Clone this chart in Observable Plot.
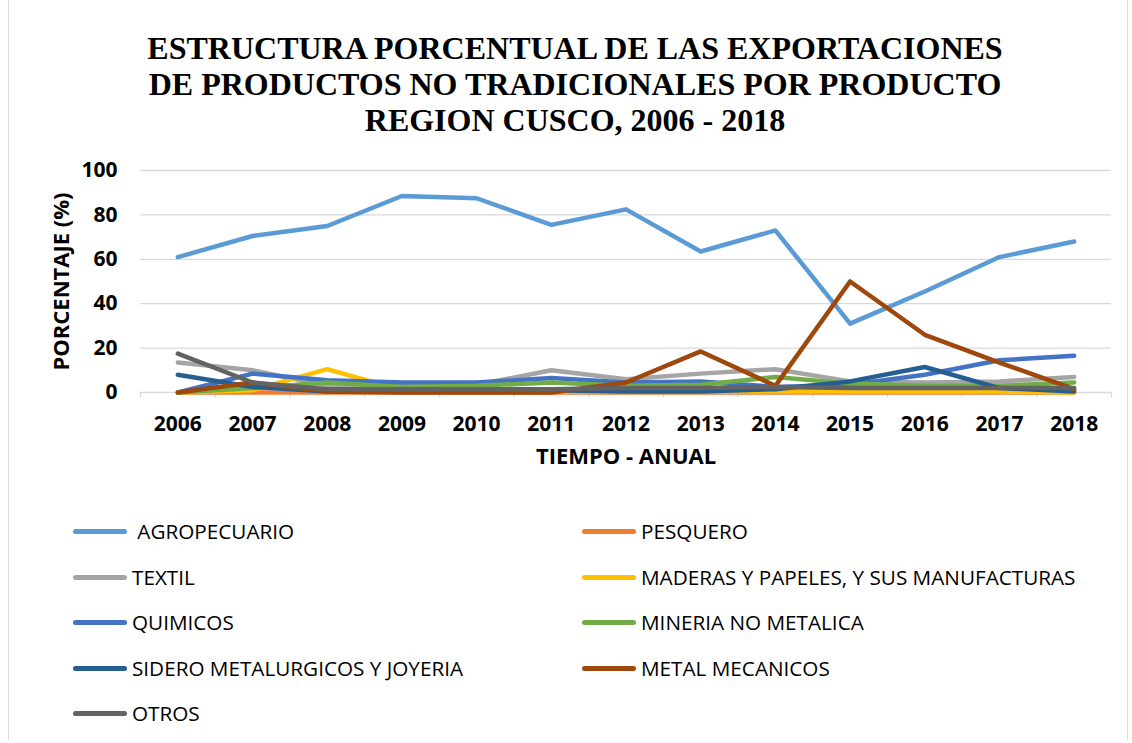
<!DOCTYPE html>
<html><head><meta charset="utf-8">
<script src="https://cdn.jsdelivr.net/npm/d3@7"></script>
<script src="https://cdn.jsdelivr.net/npm/@observablehq/plot@0.6"></script>
<style>
body{margin:0;background:#fff;width:1132px;height:743px;position:relative;overflow:hidden;font-family:"Open Sans",sans-serif;color:#000}
#frame{position:absolute;left:8px;top:-2px;width:1120px;height:742px;border-left:1px solid #d9d9d9;border-right:1px solid #d9d9d9;box-sizing:border-box;z-index:5;pointer-events:none}
#title{position:absolute;top:30px;left:0;width:1150px;text-align:center;font-family:"Liberation Serif",serif;font-weight:bold;font-size:32px;line-height:36px}
#chart{position:absolute;top:140px;left:0}
.leg{position:absolute;height:24px;display:flex;align-items:center;font-size:20.7px;white-space:pre}
.sw{display:inline-block;height:5px;border-radius:3px;margin-right:5px;width:54px}
</style></head>
<body>
<div id="frame"></div>
<div id="title">ESTRUCTURA PORCENTUAL DE LAS EXPORTACIONES<br>DE PRODUCTOS NO TRADICIONALES POR PRODUCTO<br>REGION CUSCO, 2006 - 2018</div>
<div id="chart"></div>
<div id="legend"></div>
<script>
const years = [2006,2007,2008,2009,2010,2011,2012,2013,2014,2015,2016,2017,2018];
const yTicks = [0,20,40,60,80,100];
const seriesNames = ["AGROPECUARIO","PESQUERO","TEXTIL","MADERAS Y PAPELES, Y SUS MANUFACTURAS","QUIMICOS","MINERIA NO METALICA","SIDERO METALURGICOS Y JOYERIA","METAL MECANICOS","OTROS"];
const seriesColors = ["#5B9BD5","#ED7D31","#A5A5A5","#FFC000","#4472C4","#70AD47","#255E91","#9E480E","#636363"];
const agropecuario = [61,70.5,75,88.5,87.5,75.5,82.5,63.5,73,31,45.5,61,68];
const pesquero     = [0,0,0,0,0,0,0,0,0,0,0,0,0];
const textil       = [13.5,10,3,3,3.5,10,6,8.5,10.5,5,4.5,5,7];
const maderas      = [0,1,10.5,1,0.5,0.5,0.5,0.5,0.5,0.5,0.5,0.5,0];
const quimicos     = [0,8.5,5.5,4.5,4.5,6.5,4.5,5,2.5,3.5,8,14.5,16.5];
const mineria      = [0,2,4.5,2.5,3,4.5,3,3.5,7,4,3,3,4.5];
const sidero       = [8,2.5,0.5,0.5,0.5,1,0.5,0.5,1.5,5,11.5,2,0.5];
const metal        = [0,4.5,0.5,0,0,0,4.5,18.5,3,50,26,13.5,1.5];
const otros        = [17.5,4.5,1.5,1.5,1.5,1.5,2,2,2.5,2,2,2,2];
const seriesValues = [agropecuario,pesquero,textil,maderas,quimicos,mineria,sidero,metal,otros];

const boundaries = d3.range(years.length + 1).map(i => years[0] - 0.5 + i);
const bold = {fontWeight:"bold", fontFamily:"Open Sans", fill:"#000"};

const lineMarks = seriesNames.map((name, i) =>
  Plot.line(years.map((y, j) => ({year:y, value:seriesValues[i][j]})), {
    x:"year", y:"value", stroke:seriesColors[i], strokeWidth:4.5,
    strokeLinecap:"round", strokeLinejoin:"round"
  }));

const chart = Plot.plot({
  width:1132, height:342,
  marginTop:30, marginBottom:90, marginLeft:140, marginRight:21,
  x:{domain:[years[0]-0.5, years[years.length-1]+0.5], axis:null},
  y:{domain:[0,100], axis:null},
  style:{fontFamily:"Open Sans", background:"transparent"},
  marks:[
    Plot.ruleY(yTicks, {stroke:"#d9d9d9", strokeWidth:1.3}),
    Plot.ruleX(boundaries, {y1:0, y2:-2.4, stroke:"#d9d9d9", strokeWidth:1.3}),
    Plot.text(years, {x:d=>d, y:0, dy:32, text:d=>String(d), fontSize:21, ...bold}),
    Plot.text(yTicks, {x:years[0]-0.5, y:d=>d, dx:-23, textAnchor:"end", text:d=>String(d), fontSize:21, ...bold}),
    Plot.text(["PORCENTAJE (%)"], {frameAnchor:"left", dx:-79, rotate:-90, textAnchor:"middle", text:d=>d, fontSize:22, ...bold}),
    Plot.text(["TIEMPO - ANUAL"], {frameAnchor:"bottom", dy:71, text:d=>d, fontSize:22, ...bold}),
    ...lineMarks
  ]
});
document.getElementById("chart").appendChild(chart);

const legend = document.getElementById("legend");
const rowY = [531,577,622,668,713];
seriesNames.forEach((name, i) => {
  const col = i % 2, row = Math.floor(i / 2);
  const el = document.createElement("div");
  el.className = "leg";
  el.style.left = (col === 0 ? 73 : 582) + "px";
  el.style.top = (rowY[row] - 12) + "px";
  const sw = document.createElement("span");
  sw.className = "sw";
  sw.style.background = seriesColors[i];
  el.appendChild(sw);
  const t = document.createElement("span");
  t.textContent = (i === 0 ? " " : "") + name;
  el.appendChild(t);
  legend.appendChild(el);
});
</script>
</body></html>
